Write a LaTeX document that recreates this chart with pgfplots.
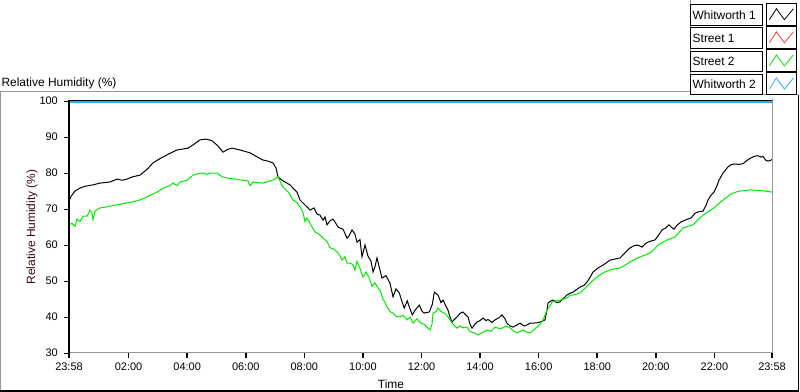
\documentclass[border=0pt]{standalone}
\usepackage{fontspec}
\setmainfont{Liberation Sans}
\usepackage{pgfplots}
\pgfplotsset{compat=1.18}
\definecolor{lvgreen}{RGB}{0,235,0}
\definecolor{lvblue}{RGB}{40,175,240}
\definecolor{lvred}{RGB}{240,60,60}
\definecolor{lvgray}{RGB}{150,150,150}
\definecolor{ylab}{RGB}{60,10,10}
\newcommand\lgbox[1]{{\setlength\fboxsep{0pt}\setlength\fboxrule{0.8bp}\fbox{\raisebox{0pt}[14.5bp][5.5bp]{\makebox[71bp][l]{\hspace{2bp}#1}}}}}
\begin{document}
\begin{tikzpicture}
\path[use as bounding box] (0,0) rectangle (800bp,392bp);
% panel frame
\draw[lvgray, line width=1bp] (0.5bp,0) -- (0.5bp,300bp) -- (690bp,300bp);
\draw[lvgray, line width=1bp] (690.5bp,300bp) -- (690.5bp,392bp);
\draw[lvgray, line width=1bp] (690bp,297bp) -- (798bp,297bp);
\draw[black, line width=1.2bp] (0,1bp) -- (798.5bp,1bp) -- (798.5bp,297bp);
\begin{axis}[
  name=ax,
  at={(69bp,39bp)}, anchor=south west,
  scale only axis, width=703bp, height=252bp,
  xmin=-0.0341, xmax=23.967, ymin=30, ymax=100,
  axis line style={draw=none},
  xtick={-0.0341,2,4,6,8,10,12,14,16,18,20,22,23.967},
  xticklabels={23:58,02:00,04:00,06:00,08:00,10:00,12:00,14:00,16:00,18:00,20:00,22:00,23:58},
  minor x tick num=6,
  ytick={30,40,...,100},
  xtick pos=bottom, ytick pos=left,
  tick align=outside,
  major tick length=5bp, minor tick length=3.5bp,
  tick style={black},
  major x tick style={line width=1.6bp},
  minor x tick style={line width=0.8bp},
  major y tick style={line width=0.8bp},
  /pgf/number format/assume math mode=true,
  tick label style={font=\fontsize{11}{13}\selectfont, inner sep=2bp},
  yticklabel style={xshift=-4bp},
  xticklabel style={yshift=-3bp},
  xlabel={Time},
  ylabel={Relative Humidity (\%)},
  every axis x label/.style={at={(axis description cs:0.458,0)}, anchor=center, yshift=-31bp, font=\fontsize{12}{14}\selectfont},
  every axis y label/.style={at={(axis description cs:-0.0526,0.5)}, rotate=90, anchor=center, font=\fontsize{12}{14}\selectfont, text=ylab},
  title={Relative Humidity (\%)},
  every axis title/.style={at={(axis description cs:0,1)}, anchor=west, xshift=-71bp, yshift=18bp, font=\fontsize{12}{14}\selectfont},
  legend plot pos=right,
  legend cell align=left,
  legend style={at={(axis description cs:1,1)}, anchor=north east, xshift=25bp, yshift=98bp,
    draw=none, fill=none, inner sep=0pt, row sep=0.9bp, column sep=3.5bp,
    nodes={inner sep=0pt},
    font=\fontsize{12}{14}\selectfont},
  legend image code/.code={
    \draw[black, line width=0.8bp, fill=white] (0bp,-12.3bp) rectangle (30bp,9.1bp);
    \draw[#1, line width=0.8bp] (3bp,-7bp) -- (10bp,4bp) -- (18bp,-7bp) -- (27bp,4bp);
  },
]
\addplot[black, line width=1bp] coordinates {
(-0.034,72.2) (0.034,73.5) (0.171,75.0) (0.341,75.8) (0.512,76.3) (0.785,76.7) (1.024,77.2) (1.366,77.5) (1.605,78.3) (1.775,78.0) (1.946,78.3) (2.117,78.9) (2.390,79.4) (2.629,81.0) (2.834,82.8) (3.073,84.0) (3.346,85.2) (3.653,86.4) (4.029,86.9) (4.234,88.0) (4.438,89.2) (4.643,89.4) (4.848,89.0) (5.053,87.5) (5.224,85.8) (5.394,86.6) (5.531,86.9) (5.804,86.4) (6.146,85.6) (6.385,84.5) (6.589,83.6) (6.760,83.3) (6.931,82.8) (7.033,81.4) (7.101,78.9) (7.238,78.0) (7.408,77.2) (7.511,76.7) (7.613,75.8) (7.750,74.7) (7.852,72.5) (8.023,71.1) (8.126,70.3) (8.194,69.7) (8.331,70.3) (8.433,68.6) (8.535,68.3) (8.638,66.9) (8.706,67.8) (8.774,65.6) (8.877,66.7) (8.979,67.2) (9.047,66.4) (9.150,65.0) (9.218,64.7) (9.321,64.4) (9.457,61.9) (9.525,62.5) (9.628,64.2) (9.730,63.0) (9.799,60.8) (9.901,61.5) (9.969,56.7) (10.072,60.0) (10.174,56.9) (10.277,55.5) (10.345,52.5) (10.413,54.0) (10.481,56.4) (10.584,53.0) (10.652,50.8) (10.789,51.5) (10.925,49.4) (11.028,45.6) (11.130,47.8) (11.242,46.7) (11.345,44.0) (11.413,42.5) (11.515,44.5) (11.584,42.8) (11.686,40.6) (11.789,42.0) (11.926,43.3) (12.028,41.5) (12.096,41.1) (12.267,41.4) (12.370,43.5) (12.438,46.9) (12.564,46.1) (12.667,44.0) (12.735,44.7) (12.837,43.0) (12.906,41.9) (12.974,40.0) (13.042,38.6) (13.145,39.5) (13.213,40.0) (13.315,41.0) (13.417,41.4) (13.520,40.5) (13.588,40.0) (13.656,38.0) (13.725,36.9) (13.827,38.0) (13.895,38.6) (13.998,39.0) (14.100,39.7) (14.203,39.0) (14.271,39.3) (14.408,38.5) (14.510,39.2) (14.647,39.8) (14.749,40.6) (14.852,39.5) (14.920,38.3) (15.023,37.5) (15.125,37.2) (15.262,37.8) (15.364,38.3) (15.501,37.5) (15.603,37.8) (15.706,38.3) (15.808,38.3) (15.945,38.4) (16.047,38.6) (16.149,38.9) (16.217,39.2) (16.286,42.0) (16.320,43.9) (16.422,44.5) (16.491,44.7) (16.627,44.0) (16.729,44.2) (16.866,45.3) (16.968,46.1) (17.071,46.6) (17.173,46.9) (17.275,47.5) (17.412,48.3) (17.549,48.8) (17.651,49.7) (17.754,51.0) (17.856,52.5) (18.027,53.6) (18.198,54.4) (18.334,55.2) (18.436,55.8) (18.607,56.1) (18.778,56.4) (18.948,57.8) (19.119,59.2) (19.256,59.8) (19.358,60.0) (19.461,59.7) (19.529,59.4) (19.631,60.3) (19.734,60.8) (19.870,61.2) (19.973,61.4) (20.075,62.5) (20.212,64.2) (20.314,64.6) (20.451,65.6) (20.553,64.8) (20.621,64.4) (20.724,65.5) (20.860,66.4) (21.031,67.0) (21.202,67.5) (21.338,68.8) (21.440,69.2) (21.611,69.4) (21.714,71.0) (21.782,72.5) (21.884,73.8) (21.987,74.7) (22.089,76.5) (22.158,78.0) (22.294,80.0) (22.465,81.7) (22.568,82.3) (22.670,82.5) (22.841,82.4) (22.977,82.6) (23.114,83.5) (23.250,84.2) (23.387,84.7) (23.489,84.8) (23.592,84.4) (23.660,84.6) (23.762,83.5) (23.831,83.3) (23.933,83.6) (23.967,83.7)
};
\addlegendentry{\lgbox{Whitworth 1}}
\addlegendimage{lvred}
\addlegendentry{\lgbox{Street 1}}
\addplot[lvgreen, line width=1bp] coordinates {
(-0.034,65.6) (0.068,66.0) (0.171,65.2) (0.239,67.2) (0.341,66.5) (0.444,68.0) (0.580,68.0) (0.683,69.7) (0.751,68.8) (0.785,67.0) (0.854,69.5) (1.024,70.3) (1.195,70.5) (1.366,70.8) (1.639,71.2) (1.946,71.7) (2.151,72.0) (2.390,72.5) (2.663,73.5) (2.970,74.7) (3.243,76.0) (3.414,76.5) (3.517,77.2) (3.653,76.5) (3.756,77.5) (3.995,78.0) (4.199,79.4) (4.370,79.8) (4.541,80.0) (4.677,79.6) (4.780,80.0) (5.019,80.0) (5.189,79.0) (5.360,78.6) (5.633,78.3) (5.906,78.0) (6.077,77.8) (6.146,76.5) (6.248,77.5) (6.589,77.2) (6.828,77.8) (6.999,78.3) (7.101,79.0) (7.238,76.5) (7.340,75.5) (7.477,74.5) (7.613,72.5) (7.750,71.8) (7.852,70.6) (7.955,69.0) (8.023,66.5) (8.092,67.5) (8.194,66.0) (8.365,63.6) (8.501,63.0) (8.638,61.9) (8.774,61.0) (8.877,59.2) (8.979,59.0) (9.116,58.1) (9.218,57.0) (9.287,55.8) (9.389,56.8) (9.457,55.0) (9.559,55.0) (9.662,54.5) (9.730,53.0) (9.799,55.5) (9.901,53.5) (10.003,51.1) (10.106,52.5) (10.208,51.0) (10.311,48.5) (10.413,49.5) (10.516,48.0) (10.584,47.5) (10.686,45.0) (10.755,44.0) (10.823,42.8) (10.925,41.5) (11.028,41.1) (11.130,40.2) (11.267,40.0) (11.370,40.5) (11.506,39.2) (11.608,40.0) (11.711,38.3) (11.847,39.5) (11.950,38.5) (12.086,38.0) (12.223,36.9) (12.291,36.4) (12.359,38.0) (12.393,41.1) (12.496,41.5) (12.564,42.5) (12.667,41.5) (12.803,41.0) (12.906,40.0) (12.974,39.2) (13.076,38.0) (13.213,36.9) (13.315,37.5) (13.417,37.0) (13.554,37.2) (13.656,36.0) (13.725,35.8) (13.827,35.5) (13.930,35.0) (14.066,35.6) (14.237,36.4) (14.374,36.0) (14.510,37.2) (14.647,36.8) (14.749,36.9) (14.886,37.5) (15.023,37.0) (15.159,36.0) (15.262,35.6) (15.364,36.0) (15.467,36.4) (15.603,35.8) (15.706,35.6) (15.842,36.5) (15.945,37.2) (16.047,38.0) (16.149,39.2) (16.217,40.5) (16.286,41.9) (16.388,43.0) (16.456,44.2) (16.593,44.5) (16.729,44.7) (16.866,45.0) (16.968,45.3) (17.071,46.1) (17.173,46.1) (17.275,46.3) (17.412,46.7) (17.583,48.0) (17.754,49.4) (17.924,50.6) (18.095,51.7) (18.266,52.5) (18.436,53.1) (18.607,53.4) (18.778,53.6) (18.948,54.4) (19.119,55.3) (19.290,56.0) (19.461,56.7) (19.631,57.2) (19.802,57.8) (19.939,58.8) (20.075,60.0) (20.212,60.6) (20.383,61.4) (20.519,61.8) (20.656,62.2) (20.792,63.5) (20.929,64.7) (21.099,65.2) (21.270,65.6) (21.441,67.0) (21.611,68.3) (21.782,69.2) (21.987,70.3) (22.192,71.8) (22.397,73.1) (22.534,74.0) (22.636,74.4) (22.773,74.8) (22.875,75.0) (23.045,75.1) (23.216,75.3) (23.421,75.2) (23.626,75.1) (23.797,74.9) (23.967,74.7)
};
\addlegendentry{\lgbox{Street 2}}
\addplot[lvblue, line width=3bp] coordinates {(-0.034,100) (23.967,100)};
\addlegendentry{\lgbox{Whitworth 2}}
\end{axis}
% plot frame
\draw[lvgray, line width=1bp] (ax.south west) -- (ax.south east) -- ([yshift=1.8bp]ax.north east);
\draw[black, line width=1bp] ([yshift=0.5bp]ax.north west) -- ([yshift=0.5bp]ax.north east);
\draw[black, line width=1.4bp] ([yshift=1bp]ax.north west) -- (ax.south west);
\end{tikzpicture}
\end{document}
